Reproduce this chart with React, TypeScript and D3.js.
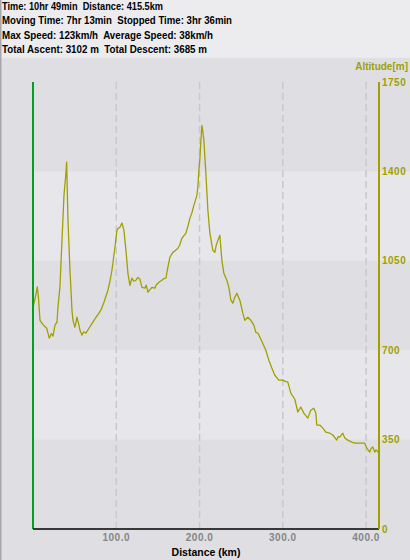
import React from 'react';
import * as d3 from 'd3';

// header statistics
const headerLines = [
  'Time: 10hr 49min  Distance: 415.5km',
  'Moving Time: 7hr 13min  Stopped Time: 3hr 36min',
  'Max Speed: 123km/h  Average Speed: 38km/h',
  'Total Ascent: 3102 m  Total Descent: 3685 m',
];
const headerWidths = [161, 230, 211, 205];

// elevation profile: distance (km) / altitude (m)
const distanceKm = [
  0, 2.4, 5.2, 6.6, 8.4, 12, 16.4, 19.6, 22, 24, 26.4, 28.8, 30, 32.4, 34.8, 37.2, 39.2, 40.4, 42,
  44.4, 46.8, 48, 50.4, 52.8, 55.2, 56.4, 58.8, 61, 63.6, 67.2, 70, 73.2, 76, 79.2, 82, 85.2, 90,
  92.4, 94.8, 98.4, 100.8, 102.6, 104.4, 106.8, 109.2, 111.6, 114, 116.4, 118.8, 121, 123.6, 126,
  128.4, 130.8, 134.4, 136, 138, 140, 142.8, 146.4, 148, 150, 152, 154.8, 157, 159.6, 162, 164.4,
  168, 171, 174, 176, 178.8, 183.6, 186, 188.4, 191, 193.2, 196.8, 198, 199.2, 200.4, 201.6, 202.8,
  204, 205.2, 207.6, 210, 212.4, 216, 218.4, 220, 222, 224.4, 226.8, 229.2, 232.8, 235.2, 237.6,
  240, 242, 244.8, 248.4, 252, 254.4, 258, 261.6, 265.2, 267.6, 270, 274.8, 279.6, 283.2, 286.8,
  290.4, 295.2, 300, 303, 306, 309.6, 314.4, 318, 321.6, 325.2, 330, 333.6, 337.2, 339.6, 340.8,
  344.4, 348, 351.6, 356.4, 360, 364.8, 366.6, 368.4, 372, 374.4, 378, 382.8, 386.4, 390, 394.8,
  398.4, 400.8, 404.4, 406, 408, 410.4, 412, 415.5,
];
const altitudeM = [
  869, 900, 948, 905, 817, 800, 786, 747, 765, 755, 798, 810, 869, 950, 1130, 1306, 1380, 1437, 1209,
  1013, 857, 817, 790, 829, 798, 778, 759, 772, 767, 786, 800, 817, 830, 845, 860, 888, 935,
  970, 1013, 1103, 1169, 1178, 1181, 1198, 1169, 1091, 1001, 954, 982, 970, 974, 985,
  978, 946, 943, 955, 927, 935, 946, 943, 955, 962, 968, 974, 980, 982, 1025, 1064,
  1083, 1090, 1099, 1110, 1138, 1158, 1185, 1216, 1240, 1267, 1306, 1340, 1404, 1450, 1521, 1580,
  1555, 1521, 1392, 1248, 1158, 1091, 1083, 1110, 1130, 1150, 1052, 1001, 974, 946, 896,
  884, 905, 923, 896, 845, 817, 829, 817, 798, 770, 767, 735, 700, 661, 630,
  602, 583, 583, 578, 575, 532, 508, 458, 477, 454, 434, 465, 473, 454, 407,
  407, 395, 379, 375, 368, 348, 362, 360, 375, 356, 348, 340, 336, 336, 336,
  336, 317, 301, 315, 321, 301, 310, 297,
];

const xTicks = [100, 200, 300, 400];
const yTicks = [0, 350, 700, 1050, 1400, 1750];

const W = 410;
const H = 560;
const olive = '#a0a000';
const font = 'Liberation Sans, Arial, sans-serif';

export default function App() {
  const x = d3.scaleLinear().domain([0, 415.5]).range([33, 379]);
  const y = d3.scaleLinear().domain([0, 1750]).range([529, 82]);

  const points = distanceKm.map((d, i) => [d, altitudeM[i]] as [number, number]);
  const line = d3
    .line<[number, number]>()
    .x((d) => x(d[0]))
    .y((d) => y(d[1]));

  const bands = d3.range(0, yTicks.length - 1).filter((i) => i % 2 === 1);

  return (
    <div style={{ position: 'fixed', left: 0, top: 0 }}>
      <svg width={W} height={H} style={{ display: 'block' }}>
        <rect x={0} y={0} width={W} height={H} fill="#dfdfe3" />
        <rect x={0} y={0} width={W} height={58} fill="#ececef" />
        <line x1={0} x2={W} y1={58} y2={58} stroke="#e4e4e8" />
        <rect x={0} y={0} width={1.5} height={H} fill="#a8a8ac" />

        {headerLines.map((t, i) => (
          <text
            key={t}
            x={2}
            y={10 + i * 14.3}
            fontFamily={font}
            fontWeight="bold"
            fontSize={10}
            fill="#000"
            textLength={headerWidths[i]}
            lengthAdjust="spacingAndGlyphs"
            style={{ whiteSpace: 'pre' }}
          >
            {t}
          </text>
        ))}

        {/* alternating altitude bands */}
        {bands.map((i) => (
          <rect
            key={i}
            x={x(0)}
            y={y(yTicks[i + 1])}
            width={W - x(0)}
            height={y(yTicks[i]) - y(yTicks[i + 1])}
            fill="#e7e7eb"
          />
        ))}

        {/* dashed distance grid */}
        {xTicks.map((t) => (
          <line
            key={t}
            x1={x(t)}
            x2={x(t)}
            y1={y(1750)}
            y2={y(0)}
            stroke="#c9c9cd"
            strokeWidth={1.5}
            strokeDasharray="7,4"
          />
        ))}

        <path d={line(points) || ''} fill="none" stroke={olive} strokeWidth={1.3} strokeLinejoin="round" />

        {/* axes */}
        <line x1={x(0)} x2={x(0)} y1={y(1750)} y2={y(0)} stroke="#00a020" strokeWidth={2} />
        <line x1={x(0)} x2={x(415.5)} y1={y(0)} y2={y(0)} stroke="#000" strokeWidth={1.5} />
        <line x1={x(415.5)} x2={x(415.5)} y1={y(1750)} y2={y(0)} stroke={olive} strokeWidth={2} />

        {yTicks.map((t) => (
          <text
            key={t}
            x={382}
            y={y(t)}
            dy="0.35em"
            fontFamily={font}
            fontWeight="bold"
            fontSize={10}
            letterSpacing={0.5}
            fill={olive}
          >
            {t}
          </text>
        ))}
        <text
          x={408}
          y={70}
          textAnchor="end"
          fontFamily={font}
          fontWeight="bold"
          fontSize={10}
          fill={olive}
        >
          Altitude[m]
        </text>

        {xTicks.map((t) => (
          <text
            key={t}
            x={x(t)}
            y={541}
            textAnchor="middle"
            fontFamily={font}
            fontWeight="bold"
            fontSize={10}
            letterSpacing={0.5}
            fill="#858585"
          >
            {t.toFixed(1)}
          </text>
        ))}
        <text
          x={206}
          y={556}
          textAnchor="middle"
          fontFamily={font}
          fontWeight="bold"
          fontSize={10.5}
          fill="#000"
        >
          Distance (km)
        </text>
      </svg>
    </div>
  );
}
